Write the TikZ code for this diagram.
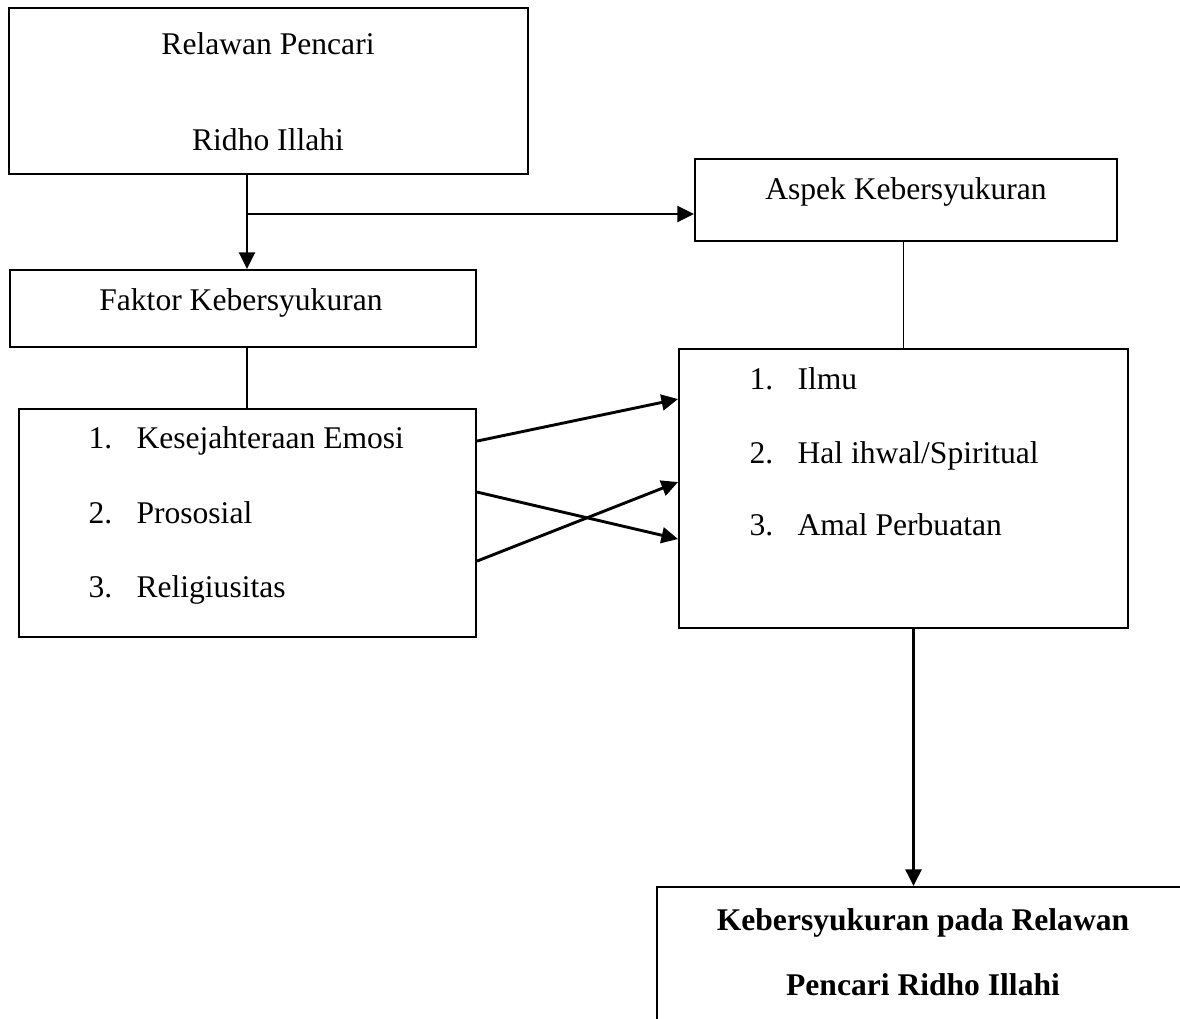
\documentclass[tikz,border=0pt]{standalone}
\usepackage{fontspec}
\setmainfont{Liberation Serif}
\usetikzlibrary{positioning,calc,arrows.meta}

\begin{document}
\begin{tikzpicture}[x=0.38pt,y=-0.38pt,
  box/.style={rectangle,draw,line width=0.75pt,inner sep=0pt},
  txt/.style={inner sep=0pt,font=\fontsize{12}{14}\selectfont},
  arr/.style={-{Triangle[length=6.3pt,width=6pt]},line width=1.1pt},
  lin/.style={line width=0.75pt}
]
  \useasboundingbox (0,0) rectangle (1180,1018);
  \clip (0,0) rectangle (1180,1018);

  % kotak
  \node[box,minimum width=197.2pt,minimum height=63.1pt] (relawan) at (268.5,91) {};
  \node[box,minimum width=160.4pt,minimum height=31.2pt] (aspek) at (906,200) {};
  \node[box,minimum width=177.1pt,minimum height=29.3pt] (faktor) at (243,308.5) {};
  \node[box,minimum width=173.7pt,minimum height=86.6pt] (faktorlist) at (247.5,523) {};
  \node[box,minimum width=170.6pt,minimum height=106pt] (aspeklist) at (903.5,488.5) {};
  \node[box,minimum width=202.2pt,minimum height=76pt] (hasil) at (923,987) {};

  % teks
  \node[txt,anchor=base] (relawan1) at (268,54) {Relawan Pencari};
  \node[txt,anchor=base] (relawan2) at (268,150) {Ridho Illahi};
  \node[txt,anchor=base] (aspektxt) at (906,199) {Aspek Kebersyukuran};
  \node[txt,anchor=base] (faktortxt) at (241,310) {Faktor Kebersyukuran};

  \node[txt,anchor=base west] (fn1) at (88,448) {1.};
  \node[txt,anchor=base west] (fi1) at (136,448) {Kesejahteraan Emosi};
  \node[txt,anchor=base west] (fn2) at (88,523) {2.};
  \node[txt,anchor=base west] (fi2) at (136,523) {Prososial};
  \node[txt,anchor=base west] (fn3) at (88,597) {3.};
  \node[txt,anchor=base west] (fi3) at (136,597) {Religiusitas};

  \node[txt,anchor=base west] (an1) at (749,389) {1.};
  \node[txt,anchor=base west] (ai1) at (797,389) {Ilmu};
  \node[txt,anchor=base west] (an2) at (749,463) {2.};
  \node[txt,anchor=base west] (ai2) at (797,463) {Hal ihwal/Spiritual};
  \node[txt,anchor=base west] (an3) at (749,535) {3.};
  \node[txt,anchor=base west] (ai3) at (797,535) {Amal Perbuatan};

  \node[txt,anchor=base,font=\fontsize{12}{14}\selectfont\bfseries] (hasil1) at (923,930) {Kebersyukuran pada Relawan};
  \node[txt,anchor=base,font=\fontsize{12}{14}\selectfont\bfseries] (hasil2) at (923,995) {Pencari Ridho Illahi};

  % garis
  \coordinate (split) at (247,214);
  \draw[arr] (relawan.south -| split) -- (faktor.north -| split);
  \draw[arr] (split) -- (split -| aspek.west);
  \draw[lin] (aspeklist.north |- aspek.south) -- (aspeklist.north);
  \draw[lin] (faktor.south -| split) -- (faktorlist.north -| split);

  \draw[arr] ($(faktorlist.north east)+(0,33)$) -- ($(aspeklist.north west)+(0,51)$);
  \draw[arr] ($(faktorlist.north east)+(0,84)$) -- ($(aspeklist.north west)+(0,191)$);
  \draw[arr] ($(faktorlist.north east)+(0,153)$) -- ($(aspeklist.north west)+(0,134)$);

  \coordinate (down) at ($(aspeklist.south)+(10,0)$);
  \draw[arr] (down) -- (down |- hasil.north);
\end{tikzpicture}
\end{document}
